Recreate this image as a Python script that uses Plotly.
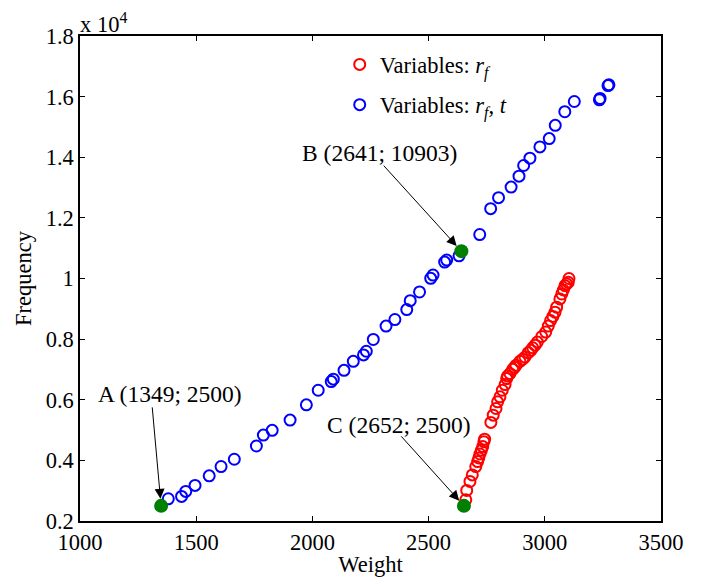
import plotly.graph_objects as go

# Designs found with one design variable (r_f)
red_weight = [2660, 2664, 2678, 2688, 2703, 2711, 2716, 2721, 2727, 2733, 2738, 2741,
              2768, 2778, 2790, 2797, 2807, 2817, 2829, 2836, 2840, 2850,
              2862, 2870, 2876, 2893, 2905, 2915, 2929, 2940, 2948, 2958,
              2968, 2987, 3004, 3015, 3025, 3035, 3044, 3051, 3065, 3073,
              3080, 3087, 3094, 3101, 3104]
red_freq = [2700, 3009, 3304, 3521, 3797, 3961, 4080, 4211, 4330, 4454, 4618, 4700,
            5252, 5492, 5712, 5932, 6097, 6313, 6501, 6698, 6780, 6862,
            7003, 7070, 7135, 7266, 7340, 7411, 7552, 7630, 7716, 7800,
            7903, 8087, 8232, 8429, 8613, 8750, 8889, 9053, 9326, 9490,
            9620, 9763, 9820, 9875, 10000]

# Designs found with two design variables (r_f, t)
blue_weight = [1380, 1437, 1455, 1495, 1556, 1607, 1664, 1759, 1789, 1827,
               1904, 1974, 2025, 2081, 2090, 2136, 2176, 2220, 2232, 2262,
               2317, 2355, 2406, 2421, 2461, 2509, 2519, 2569, 2578, 2631,
               2720, 2767, 2801, 2855, 2889, 2909, 2936, 2979, 3019, 3045,
               3086, 3127, 3235, 3238, 3272, 3276]
blue_freq = [2733, 2811, 2976, 3173, 3489, 3797, 4037, 4474, 4835, 4990,
             5328, 5833, 6313, 6600, 6680, 6970, 7266, 7480, 7600, 7989,
             8429, 8646, 8975, 9270, 9556, 10006, 10114, 10541, 10607, 10749,
             11450, 12305, 12667, 13015, 13377, 13728, 13968, 14342, 14615, 15052,
             15502, 15840, 15896, 15939, 16366, 16389]

# Highlighted designs A, B, C
key_names = ["A", "B", "C"]
key_weight = [1349, 2641, 2652]
key_freq = [2500, 10903, 2500]

x_ticks = [1000, 1500, 2000, 2500, 3000, 3500]
y_ticks = [2000, 4000, 6000, 8000, 10000, 12000, 14000, 16000, 18000]
y_tick_text = ["0.2", "0.4", "0.6", "0.8", "1", "1.2", "1.4", "1.6", "1.8"]

FONT = "Liberation Serif"
FS = 22.5

fig = go.Figure()
fig.add_trace(go.Scatter(
    x=red_weight, y=red_freq, mode="markers", legendgroup="rf",
    name="Variables: <i>r</i><sub><i>f</i></sub>",
    marker=dict(symbol="circle-open", size=11, color="#ff0000",
                line=dict(width=2, color="#ff0000")),
))
fig.add_trace(go.Scatter(
    x=blue_weight, y=blue_freq, mode="markers", legendgroup="rft",
    name="Variables: <i>r</i><sub><i>f</i></sub>, <i>t</i>",
    marker=dict(symbol="circle-open", size=11, color="#0000ff",
                line=dict(width=2, color="#0000ff")),
))
fig.add_trace(go.Scatter(
    x=key_weight, y=key_freq, mode="markers", showlegend=False,
    marker=dict(symbol="circle", size=14, color="#008000"),
))

# Arrow tails (pixel offsets from each point) and label offsets
arrow_tail = {"A": (-9, -100), "B": (-79, -87), "C": (-64, -71)}
label_shift = {"A": (9, 112), "B": (-82, 98), "C": (-65, 81)}

annotations = []
for name, w, f in zip(key_names, key_weight, key_freq):
    ax, ay = arrow_tail[name]
    annotations.append(dict(
        x=w, y=f, xref="x", yref="y", text="", showarrow=True,
        ax=ax, ay=ay, arrowhead=2, arrowsize=2, arrowwidth=1,
        arrowcolor="black", standoff=7,
    ))
    sx, sy = label_shift[name]
    annotations.append(dict(
        x=w, y=f, xref="x", yref="y", showarrow=False,
        text=f"{name} ({w}; {f})", xshift=sx, yshift=sy,
        font=dict(family=FONT, size=23.5, color="black"),
    ))

# Exponent marker for the y axis
annotations.append(dict(
    x=0, y=1, xref="paper", yref="paper", xanchor="left", yanchor="bottom",
    text="x 10<sup>4</sup>", showarrow=False, yshift=-3, xshift=-2,
    font=dict(family=FONT, size=FS, color="black"),
))

fig.update_layout(
    width=708, height=585,
    margin=dict(l=80, r=47, t=36, b=62),
    paper_bgcolor="white", plot_bgcolor="white",
    font=dict(family=FONT, size=FS, color="black"),
    showlegend=True,
    legend=dict(x=0.447, y=0.985, xanchor="left", yanchor="top",
                bgcolor="rgba(0,0,0,0)", font=dict(family=FONT, size=FS),
                traceorder="grouped", tracegroupgap=8, itemwidth=30),
    annotations=annotations,
)
fig.update_xaxes(
    range=[1000, 3500], tickvals=x_ticks, showgrid=False, zeroline=False,
    showline=True, linecolor="black", linewidth=1.5, mirror="allticks",
    ticks="inside", ticklen=5, tickcolor="black", tickwidth=1,
    tickfont=dict(family=FONT, size=FS),
    title=dict(text="Weight", standoff=2, font=dict(family=FONT, size=FS)),
)
fig.update_yaxes(
    range=[2000, 18000], tickvals=y_ticks, ticktext=y_tick_text,
    showgrid=False, zeroline=False,
    showline=True, linecolor="black", linewidth=1.5, mirror="allticks",
    ticks="inside", ticklen=5, tickcolor="black", tickwidth=1,
    tickfont=dict(family=FONT, size=FS),
    title=dict(text="Frequency", standoff=8, font=dict(family=FONT, size=FS)),
)

fig.write_html("out.html")
